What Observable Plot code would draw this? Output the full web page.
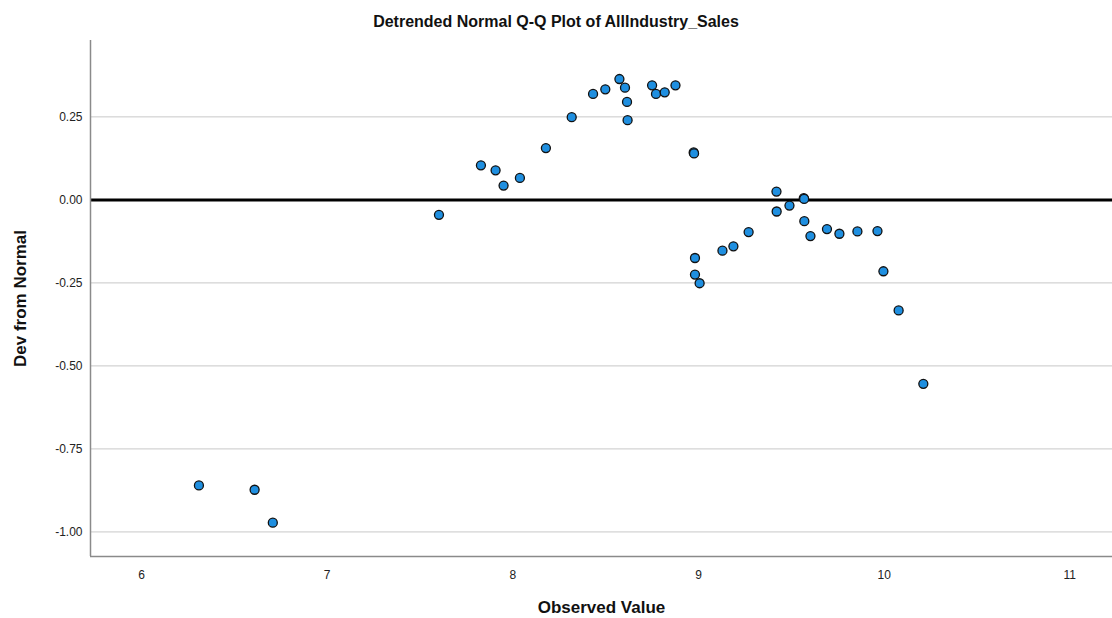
<!DOCTYPE html>
<html>
<head>
<meta charset="utf-8">
<script src="https://cdn.jsdelivr.net/npm/d3@7"></script>
<script src="https://cdn.jsdelivr.net/npm/@observablehq/plot@0.6"></script>
<style>
  html, body { margin: 0; padding: 0; background: #fff; }
  body { width: 1112px; height: 618px; overflow: hidden; font-family: "Liberation Sans", Arial, sans-serif; }
  #title { height: 32px; line-height: 44px; text-align: center; font-weight: bold; font-size: 16px; color: #111; }
  svg { display: block; }
  g[aria-label="y-axis label"] text, g[aria-label="x-axis label"] text { font-weight: bold; font-size: 17px; fill: #111; }
  g[aria-label="y-axis tick label"] text, g[aria-label="x-axis tick label"] text { font-size: 12px; fill: #222; }
</style>
</head>
<body>
<div id="title">Detrended Normal Q-Q Plot of AllIndustry_Sales</div>
<div id="chart"></div>
<script>
const observed = [
  6.309, 6.609, 6.707,
  7.602, 7.828, 7.907, 7.950, 8.038, 8.178, 8.317, 8.432, 8.498, 8.574,
  8.604, 8.615, 8.618, 8.750, 8.771, 8.818, 8.876, 8.974, 8.976,
  8.981, 8.981, 9.006, 9.129, 9.188, 9.270, 9.420, 9.421, 9.490, 9.567, 9.569,
  9.570, 9.603, 9.692, 9.759, 9.856, 9.964, 9.996, 10.078, 10.211
];
const devFromNormal = [
  -0.860, -0.873, -0.972,
  -0.045, 0.104, 0.089, 0.043, 0.066, 0.156, 0.249, 0.319, 0.333, 0.364,
  0.338, 0.295, 0.240, 0.345, 0.319, 0.324, 0.345, 0.143, 0.140,
  -0.175, -0.225, -0.251, -0.153, -0.140, -0.097, 0.025, -0.035, -0.017, 0.005, 0.003,
  -0.064, -0.109, -0.088, -0.102, -0.095, -0.094, -0.215, -0.333, -0.554
];
const xTicks = [6, 7, 8, 9, 10, 11];
const yTicks = [-1.0, -0.75, -0.5, -0.25, 0, 0.25];
const xDomain = [5.725, 11.23];
const yDomain = [-1.074, 0.48];

const points = observed.map((x, i) => ({x, y: devFromNormal[i]}));

const chart = Plot.plot({
  width: 1112,
  height: 586,
  marginLeft: 90,
  marginRight: 0,
  marginTop: 8,
  marginBottom: 62,
  style: {fontFamily: "'Liberation Sans', Arial, sans-serif", background: "#fff"},
  x: {domain: xDomain},
  y: {domain: yDomain},
  marks: [
    Plot.gridY(yTicks, {stroke: "#c8c8c8", strokeOpacity: 1, strokeWidth: 1}),
    Plot.ruleY([0], {stroke: "#000", strokeWidth: 3}),
    Plot.ruleX([xDomain[0]], {stroke: "#8a8a8a", strokeWidth: 1.5}),
    Plot.ruleY([yDomain[0]], {stroke: "#8a8a8a", strokeWidth: 1.5}),
    Plot.axisY(yTicks, {
      tickSize: 0, tickPadding: 8,
      tickFormat: d => d.toFixed(2),
      label: "Dev from Normal", labelAnchor: "center", labelArrow: "none", labelOffset: 77
    }),
    Plot.axisX(xTicks, {
      tickSize: 0, tickPadding: 14,
      tickFormat: d => String(d),
      label: "Observed Value", labelAnchor: "center", labelArrow: "none", labelOffset: 56
    }),
    Plot.dot(points, {x: "x", y: "y", r: 4.5, fill: "#1f8fe0", stroke: "#111", strokeWidth: 1.3, fillOpacity: 1})
  ]
});
document.getElementById("chart").appendChild(chart);
</script>
</body>
</html>
